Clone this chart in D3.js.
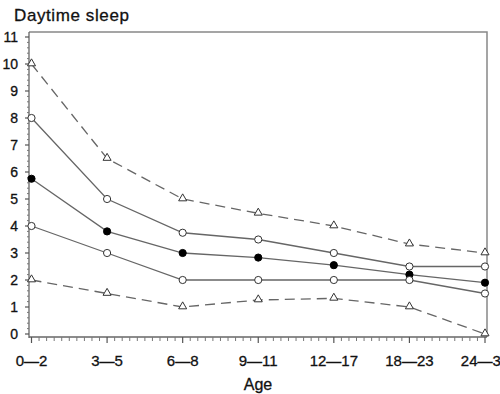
<!DOCTYPE html>
<html>
<head>
<meta charset="utf-8">
<script src="https://cdn.jsdelivr.net/npm/d3@7"></script>
<style>
  body { margin: 0; background: #fff; }
  text { font-family: "Liberation Sans", Arial, sans-serif; fill: #111; stroke: #111; stroke-width: 0.3px; }
</style>
</head>
<body>
<div id="chart"></div>
<script>
var ageGroups = ["0\u20142", "3\u20145", "6\u20148", "9\u201411", "12\u201417", "18\u201423", "24\u201436"];
var yTicks = [0, 1, 2, 3, 4, 5, 6, 7, 8, 9, 10, 11];
var upperDashed = [10, 6.5, 5, 4.47, 4, 3.33, 3];
var upperSolid = [8, 5, 3.75, 3.5, 3, 2.5, 2.5];
var median = [5.75, 3.8, 3, 2.83, 2.55, 2.2, 1.9];
var lowerSolid = [4, 3, 2, 2, 2, 2, 1.5];
var lowerDashed = [2, 1.5, 1, 1.26, 1.32, 1, 0];

var series = [
  { vals: upperDashed, dash: "10,6", mark: "tri" },
  { vals: upperSolid, dash: null, mark: "open" },
  { vals: median, dash: null, mark: "filled" },
  { vals: lowerSolid, dash: null, mark: "open" },
  { vals: lowerDashed, dash: "10,6", mark: "tri" }
];

var W = 500, H = 394;
var svg = d3.select("#chart").append("svg")
  .attr("width", W).attr("height", H);

var x = d3.scalePoint().domain(ageGroups).range([31.5, 485]);
var y = d3.scaleLinear().domain([0, 11]).range([334, 37]);

// frame
var pLeft = 29, pRight = 487, pTop = 32, pBottom = 337;
svg.append("path")
  .attr("d", "M" + pLeft + "," + pTop + "H" + pRight + "V" + pBottom)
  .attr("fill", "none").attr("stroke", "#888").attr("stroke-width", 1.5);
svg.append("line").attr("x1", pLeft).attr("x2", pLeft).attr("y1", pTop).attr("y2", pBottom + 1)
  .attr("stroke", "#666").attr("stroke-width", 1.3);
svg.append("line").attr("x1", pLeft).attr("x2", pRight).attr("y1", pBottom).attr("y2", pBottom)
  .attr("stroke", "#666").attr("stroke-width", 1.3);

// y ticks
var minorY = [];
for (var v = 0; v < 11; v++) {
  for (var k = 1; k < 5; k++) minorY.push(v + k / 5);
}
svg.selectAll(".ymin").data(minorY).enter().append("line")
  .attr("x1", pLeft - 2).attr("x2", pLeft)
  .attr("y1", function (d) { return y(d); }).attr("y2", function (d) { return y(d); })
  .attr("stroke", "#777").attr("stroke-width", 1);
svg.selectAll(".ymaj").data(yTicks).enter().append("line")
  .attr("x1", pLeft - 4).attr("x2", pLeft)
  .attr("y1", function (d) { return y(d); }).attr("y2", function (d) { return y(d); })
  .attr("stroke", "#555").attr("stroke-width", 1.2);
svg.selectAll(".ylab").data(yTicks).enter().append("text")
  .attr("x", 18).attr("y", function (d) { return y(d) + 5; })
  .attr("text-anchor", "end").style("font-size", "14px")
  .text(function (d) { return d; });

// x ticks
var xs = ageGroups.map(function (a) { return x(a); });
var minorX = [];
for (var i = 0; i < xs.length - 1; i++) {
  for (var k = 1; k < 10; k++) minorX.push(xs[i] + (xs[i + 1] - xs[i]) * k / 10);
}
svg.selectAll(".xmin").data(minorX).enter().append("line")
  .attr("x1", function (d) { return d; }).attr("x2", function (d) { return d; })
  .attr("y1", pBottom).attr("y2", pBottom + 4)
  .attr("stroke", "#777").attr("stroke-width", 1);
svg.selectAll(".xmaj").data(ageGroups).enter().append("line")
  .attr("x1", function (d) { return x(d); }).attr("x2", function (d) { return x(d); })
  .attr("y1", pBottom).attr("y2", pBottom + 6)
  .attr("stroke", "#555").attr("stroke-width", 1.2);
svg.selectAll(".xlab").data(ageGroups).enter().append("text")
  .attr("x", function (d) { return x(d); }).attr("y", 366)
  .attr("text-anchor", "middle").style("font-size", "15px")
  .text(function (d) { return d; });

// titles
svg.append("text").attr("x", 14).attr("y", 21).style("font-size", "17px")
  .style("letter-spacing", "0.6px").text("Daytime sleep");
svg.append("text").attr("x", 258).attr("y", 390).attr("text-anchor", "middle")
  .style("font-size", "16px").text("Age");

// lines
var line = d3.line()
  .x(function (d, i) { return x(ageGroups[i]); })
  .y(function (d) { return y(d); });

series.forEach(function (s) {
  svg.append("path").datum(s.vals)
    .attr("d", line)
    .attr("fill", "none").attr("stroke", "#666").attr("stroke-width", 1.3)
    .attr("stroke-dasharray", s.dash);
  var g = svg.append("g");
  s.vals.forEach(function (v, i) {
    var cx = x(ageGroups[i]), cy = y(v);
    if (s.mark === "tri") {
      g.append("path")
        .attr("d", d3.symbol().type(d3.symbolTriangle).size(28)())
        .attr("transform", "translate(" + cx + "," + (cy - 0.5) + ")")
        .attr("fill", "#fff").attr("stroke", "#333").attr("stroke-width", 1);
    } else {
      g.append("circle").attr("cx", cx).attr("cy", cy).attr("r", 3.6)
        .attr("fill", s.mark === "filled" ? "#000" : "#fff")
        .attr("stroke", s.mark === "filled" ? "#000" : "#333").attr("stroke-width", 1);
    }
  });
});
</script>
</body>
</html>
